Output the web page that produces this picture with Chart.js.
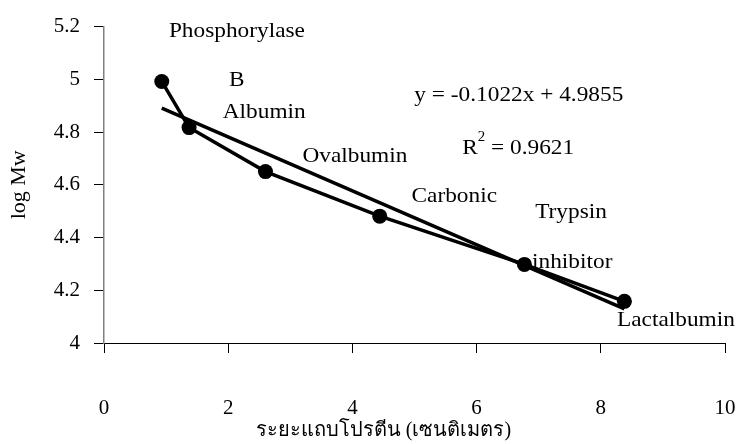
<!DOCTYPE html>
<html>
<head>
<meta charset="utf-8">
<script src="https://cdn.jsdelivr.net/npm/chart.js@4/dist/chart.umd.min.js"></script>
<style>
  html, body { margin: 0; padding: 0; background: #fff; }
  #chart { display: block; }
</style>
</head>
<body>
<canvas id="chart" width="737" height="444"></canvas>
<script>
// Migration distance (cm) vs log molecular weight
const distances = [0.93, 1.37, 2.60, 4.44, 6.77, 8.38];
const logMw = [4.992, 4.817, 4.650, 4.481, 4.298, 4.158];

// Linear fit shown on the chart
const trendSlope = -0.1022;
const trendIntercept = 4.9855;
const equationText = 'y = -0.1022x + 4.9855';
const rSquaredText = '0.9621';

// Protein name labels, placed in data units
const labelTexts = ['Phosphorylase', 'B', 'Albumin', 'Ovalbumin', 'Carbonic', 'Trypsin', 'inhibitor', 'Lactalbumin'];
const labelX = [2.14, 2.14, 2.58, 4.04, 5.64, 7.52, 7.54, 9.21];
const labelY = [5.184, 4.996, 4.876, 4.707, 4.556, 4.496, 4.305, 4.086];
const equationPos = [6.68, 4.94];
const rSquaredPos = [6.67, 4.737];

const xTitle = 'ระยะแถบโปรตีน (เซนติเมตร)';
const xTitleCenter = 4.5;
const yTitle = 'log Mw';

const FONT = '"Liberation Serif", "Times New Roman", serif';
const TEXT_STRETCH = 1.06;

const xStart = distances[0];
const xEnd = distances[distances.length - 1];
const trendPoints = [
    { x: xStart, y: trendSlope * xStart + trendIntercept },
    { x: xEnd, y: trendSlope * xEnd + trendIntercept }
];

// draw text slightly widened, centred on (x, y)
function wideText(ctx, text, x, y) {
    ctx.save();
    ctx.translate(x, y);
    ctx.scale(TEXT_STRETCH, 1);
    ctx.fillText(text, 0, 0);
    ctx.restore();
}

// Draws protein names, the fit equation and the x title (under the marks)
const annotationPlugin = {
    id: 'annotations',
    beforeDatasetsDraw(chart) {
        const ctx = chart.ctx;
        const xs = chart.scales.x;
        const ys = chart.scales.y;
        ctx.save();
        ctx.fillStyle = '#000';
        ctx.textAlign = 'center';
        ctx.textBaseline = 'middle';
        ctx.font = `22px ${FONT}`;
        labelTexts.forEach((t, i) => {
            wideText(ctx, t, xs.getPixelForValue(labelX[i]), ys.getPixelForValue(labelY[i]));
        });

        wideText(ctx, equationText, xs.getPixelForValue(equationPos[0]), ys.getPixelForValue(equationPos[1]));

        // R² with a raised superscript
        const rx = xs.getPixelForValue(rSquaredPos[0]);
        const ry = ys.getPixelForValue(rSquaredPos[1]);
        const partRest = ' = ' + rSquaredText;
        ctx.font = `22px ${FONT}`;
        const wR = ctx.measureText('R').width;
        const wRest = ctx.measureText(partRest).width;
        ctx.font = `14px ${FONT}`;
        const wSup = ctx.measureText('2').width;
        ctx.save();
        ctx.translate(rx, ry);
        ctx.scale(TEXT_STRETCH, 1);
        const x0 = -(wR + wSup + wRest) / 2;
        ctx.textAlign = 'left';
        ctx.font = `22px ${FONT}`;
        ctx.fillText('R', x0, 0);
        ctx.font = `14px ${FONT}`;
        ctx.fillText('2', x0 + wR, -11);
        ctx.font = `22px ${FONT}`;
        ctx.fillText(partRest, x0 + wR + wSup, 0);
        ctx.restore();

        // x axis title
        ctx.textAlign = 'center';
        ctx.font = `20px ${FONT}`;
        ctx.fillText(xTitle, xs.getPixelForValue(xTitleCenter), chart.height - 13);
        ctx.restore();
    }
};

new Chart(document.getElementById('chart'), {
    type: 'scatter',
    data: {
        datasets: [
            {
                label: 'log Mw',
                data: distances.map((d, i) => ({ x: d, y: logMw[i] })),
                showLine: true,
                borderColor: '#000',
                borderWidth: 3.5,
                backgroundColor: '#000',
                pointRadius: 7.5,
                pointHoverRadius: 7.5,
                pointBorderWidth: 0,
                order: 1
            },
            {
                label: 'Linear',
                data: trendPoints,
                showLine: true,
                borderColor: '#000',
                borderWidth: 3.5,
                pointRadius: 0,
                order: 2
            }
        ]
    },
    options: {
        responsive: false,
        animation: false,
        events: [],
        layout: { padding: { top: 24, right: 12, left: 0, bottom: 0 } },
        plugins: {
            legend: { display: false },
            tooltip: { enabled: false }
        },
        scales: {
            x: {
                type: 'linear',
                min: 0,
                max: 10,
                ticks: {
                    stepSize: 2,
                    padding: 43,
                    color: '#000',
                    font: { family: FONT, size: 21 }
                },
                grid: {
                    drawOnChartArea: false,
                    drawTicks: true,
                    tickLength: 10,
                    color: '#000',
                    lineWidth: 1
                },
                border: { color: '#000', width: 1 },
                title: { display: false },
                afterFit(scale) {
                    // tick padding would otherwise widen the side margins
                    scale.height = 101;
                    scale.paddingLeft = 0;
                    scale.paddingRight = 12;
                }
            },
            y: {
                type: 'linear',
                min: 4,
                max: 5.2,
                ticks: {
                    stepSize: 0.2,
                    padding: 14,
                    color: '#000',
                    font: { family: FONT, size: 21 },
                    callback: v => String(Number(v.toFixed(1)))
                },
                grid: {
                    drawOnChartArea: false,
                    drawTicks: true,
                    tickLength: 10,
                    color: '#000',
                    lineWidth: 1
                },
                border: { color: '#808080', width: 1.5 },
                title: {
                    display: true,
                    text: yTitle,
                    color: '#000',
                    font: { family: FONT, size: 22 },
                    padding: { top: 6, bottom: 0 }
                },
                afterFit(scale) { scale.width = 104; }
            }
        }
    },
    plugins: [annotationPlugin]
});
</script>
</body>
</html>
